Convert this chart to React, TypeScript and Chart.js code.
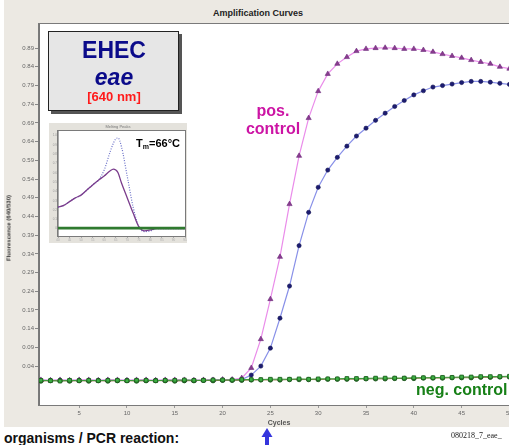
import React, { useEffect, useRef } from "react";
import { Chart, registerables } from "chart.js";

Chart.register(...registerables);

// ---------- main chart data ----------
const cycles = [1,2,3,4,5,6,7,8,9,10,11,12,13,14,15,16,17,18,19,20,21,22,23,24,25,26,27,28,29,30,31,32,33,34,35,36,37,38,39,40,41,42,43,44,45,46,47,48,49,50];

const posControl = [0.003,0.002,0.003,0.002,0.003,0.003,0.002,0.003,0.003,0.002,0.003,0.003,0.002,0.003,0.003,0.003,0.002,0.003,0.003,0.004,0.004,0.008,0.035,0.112,0.219,0.332,0.473,0.602,0.703,0.775,0.821,0.848,0.866,0.882,0.888,0.890,0.891,0.890,0.888,0.888,0.885,0.880,0.874,0.869,0.864,0.858,0.853,0.848,0.840,0.835];

const sample = [0.002,0.002,0.002,0.002,0.002,0.002,0.002,0.002,0.002,0.002,0.002,0.002,0.002,0.002,0.002,0.002,0.002,0.002,0.003,0.003,0.003,0.004,0.016,0.040,0.088,0.168,0.254,0.362,0.451,0.518,0.564,0.598,0.628,0.655,0.676,0.697,0.716,0.734,0.750,0.765,0.776,0.786,0.790,0.794,0.798,0.801,0.801,0.799,0.796,0.793];

const negControlA = [0.002,0.001,0.000,0.002,0.001,0.002,0.001,0.002,0.002,0.001,0.002,0.002,0.001,0.002,0.002,0.003,0.002,0.002,0.003,0.003,0.003,0.004,0.004,0.004,0.005,0.005,0.005,0.006,0.005,0.006,0.006,0.006,0.007,0.007,0.007,0.008,0.008,0.008,0.008,0.009,0.009,0.009,0.010,0.010,0.011,0.011,0.012,0.012,0.012,0.013];

const negControlB = [0.000,0.001,0.001,0.000,0.001,0.000,0.001,0.000,0.001,0.001,0.000,0.001,0.001,0.001,0.000,0.001,0.001,0.002,0.001,0.002,0.002,0.002,0.003,0.003,0.003,0.003,0.004,0.004,0.004,0.004,0.005,0.005,0.005,0.005,0.006,0.006,0.006,0.007,0.007,0.007,0.008,0.008,0.008,0.009,0.009,0.009,0.010,0.010,0.011,0.011];

const xTicks = [5,10,15,20,25,30,35,40,45,50];
const yTicks = [0.04,0.09,0.14,0.19,0.24,0.29,0.34,0.39,0.44,0.49,0.54,0.59,0.64,0.69,0.74,0.79,0.84,0.89];

// ---------- inset (melting peaks) data ----------
const meltTemps = [40,42.5,45,47.5,50,52.5,55,57.5,60,62.5,64,65,66,67.5,70,72.5,75,77.5,80,82.5,85,87.5,90,92.5,95];
const meltSample = [0.23,0.25,0.29,0.33,0.36,0.415,0.47,0.52,0.63,0.82,0.92,0.965,0.975,0.88,0.56,0.235,0.02,-0.033,-0.025,0,0,0,0,0,0];
const meltPos = [0.23,0.25,0.29,0.33,0.36,0.415,0.47,0.52,0.565,0.62,0.64,0.63,0.6,0.49,0.33,0.17,0.02,-0.025,-0.015,0,0,0,0,0,0];
const meltNeg = [0.005,0.005,0.005,0.005,0.005,0.005,0.005,0.005,0.005,0.005,0.005,0.005,0.005,0.005,0.005,0.005,0.005,0.005,0.005,0.005,0.005,0.005,0.005,0.005,0.005];
const meltXTicks = [40,45,50,55,60,65,70,75,80,85,90,95];
const meltYTicks = [0,0.1,0.2,0.3,0.4,0.5,0.6,0.7,0.8,0.9,1.0];

const pts = (xs: number[], ys: number[]) => xs.map((x, i) => ({ x, y: ys[i] }));

const plotBg = {
  id: "plotBg",
  beforeDraw(chart: any) {
    const { ctx, chartArea: a } = chart;
    ctx.save();
    ctx.fillStyle = "#ffffff";
    ctx.fillRect(a.left, a.top, a.right - a.left, a.bottom - a.top);
    ctx.restore();
  },
  afterDraw(chart: any) {
    const { ctx, chartArea: a } = chart;
    ctx.save();
    ctx.strokeStyle = "#7a7a7a";
    ctx.lineWidth = 1;
    ctx.strokeRect(a.left - 0.5, a.top - 0.5, a.right - a.left + 1, a.bottom - a.top + 1);
    ctx.restore();
  },
};

export default function App() {
  const mainRef = useRef<HTMLCanvasElement | null>(null);
  const insetRef = useRef<HTMLCanvasElement | null>(null);

  useEffect(() => {
    const main = new Chart(mainRef.current as HTMLCanvasElement, {
      type: "line",
      data: {
        datasets: [
          {
            data: pts(cycles, negControlA),
            borderColor: "#3a9a3a",
            borderWidth: 1,
            pointStyle: "rect",
            pointRadius: 2.6,
            pointBackgroundColor: "#3cb043",
            pointBorderColor: "#1e5e1e",
            pointBorderWidth: 0.8,
          },
          {
            data: pts(cycles, negControlB),
            borderColor: "#8a7040",
            borderWidth: 1,
            pointStyle: "circle",
            pointRadius: 2.2,
            pointBackgroundColor: "#2e8b2e",
            pointBorderColor: "#114411",
            pointBorderWidth: 0.8,
          },
          {
            data: pts(cycles, posControl),
            borderColor: "#ea8cea",
            borderWidth: 1.2,
            pointStyle: "triangle",
            pointRadius: 3.0,
            pointBackgroundColor: "#8a3c8e",
            pointBorderColor: "#6a2a7a",
            pointBorderWidth: 0.6,
          },
          {
            data: pts(cycles, sample),
            borderColor: "#8890e8",
            borderWidth: 1.2,
            pointStyle: "circle",
            pointRadius: 2.1,
            pointBackgroundColor: "#1c1c72",
            pointBorderColor: "#12124f",
            pointBorderWidth: 0.6,
          },
        ],
      },
      options: {
        animation: false,
        responsive: false,
        maintainAspectRatio: false,
        layout: { padding: { left: 0, top: 24, right: 41, bottom: 0 } },
        plugins: {
          legend: { display: false },
          title: { display: false },
          tooltip: { enabled: false },
        },
        scales: {
          x: {
            type: "linear",
            min: 0.8,
            max: 51,
            afterBuildTicks: (s: any) => {
              s.ticks = xTicks.map((v) => ({ value: v }));
            },
            afterFit: (s: any) => {
              s.height = 22;
            },
            grid: { drawOnChartArea: false, tickLength: 3, color: "#999" },
            border: { color: "#777" },
            ticks: {
              font: { size: 6, family: "Arial" },
              color: "#666",
              padding: 2,
              maxRotation: 0,
              autoSkip: false,
            },
            title: {
              display: true,
              text: "Cycles",
              font: { size: 7, weight: "bold", family: "Arial" },
              color: "#555",
              padding: 0,
            },
          },
          y: {
            type: "linear",
            min: -0.064,
            max: 0.9545,
            afterBuildTicks: (s: any) => {
              s.ticks = yTicks.map((v) => ({ value: v }));
            },
            afterFit: (s: any) => {
              s.width = 39;
            },
            grid: { drawOnChartArea: false, tickLength: 4, color: "#888" },
            border: { color: "#777" },
            ticks: {
              font: { size: 6, family: "Arial" },
              color: "#666",
              padding: 1,
              autoSkip: false,
              callback: (v: any) => Number(v).toFixed(2),
            },
          },
        },
      },
      plugins: [plotBg],
    });

    const inset = new Chart(insetRef.current as HTMLCanvasElement, {
      type: "line",
      data: {
        datasets: [
          {
            data: pts(meltTemps, meltNeg),
            borderColor: "#2f7a2f",
            borderWidth: 2.6,
            pointRadius: 0,
          },
          {
            data: pts(meltTemps, meltPos),
            borderColor: "#7a3c8c",
            borderWidth: 1.3,
            pointRadius: 0,
            cubicInterpolationMode: "monotone",
          },
          {
            data: pts(meltTemps, meltSample),
            borderColor: "#6a70c8",
            borderWidth: 1.2,
            borderDash: [1, 1.5],
            pointRadius: 0,
            cubicInterpolationMode: "monotone",
          },
        ],
      },
      options: {
        animation: false,
        responsive: false,
        maintainAspectRatio: false,
        layout: { padding: { left: 0, top: 8, right: 2, bottom: 0 } },
        plugins: {
          legend: { display: false },
          title: { display: false },
          tooltip: { enabled: false },
        },
        scales: {
          x: {
            type: "linear",
            min: 40,
            max: 95,
            afterBuildTicks: (s: any) => {
              s.ticks = meltXTicks.map((v) => ({ value: v }));
            },
            afterFit: (s: any) => {
              s.height = 7;
            },
            grid: { drawOnChartArea: false, tickLength: 2, color: "#aaa" },
            border: { color: "#aaa" },
            ticks: { font: { size: 3 }, color: "#aaa", padding: 0, maxRotation: 0, autoSkip: false },
          },
          y: {
            type: "linear",
            min: -0.08,
            max: 1.05,
            afterBuildTicks: (s: any) => {
              s.ticks = meltYTicks.map((v) => ({ value: v }));
            },
            afterFit: (s: any) => {
              s.width = 9;
            },
            grid: { drawOnChartArea: false, tickLength: 1, color: "#aaa" },
            border: { color: "#aaa" },
            ticks: { font: { size: 3 }, color: "#999", padding: 0, autoSkip: false },
          },
        },
      },
      plugins: [plotBg],
    });

    return () => {
      main.destroy();
      inset.destroy();
    };
  }, []);

  const abs = (o: React.CSSProperties): React.CSSProperties => ({ position: "absolute", ...o });

  return (
    <div
      style={{
        position: "fixed",
        left: 0,
        top: 0,
        width: 509,
        height: 445,
        overflow: "hidden",
        background: "#ffffff",
        fontFamily: "Arial, 'Liberation Sans', sans-serif",
      }}
    >
      <div style={abs({ left: 4, top: 0, width: 505, height: 427, background: "#ece9e3" })} />
      <div
        style={abs({
          left: 213,
          top: 8,
          fontSize: 9,
          lineHeight: "11px",
          fontWeight: "bold",
          color: "#222",
          whiteSpace: "nowrap",
        })}
      >
        Amplification Curves
      </div>
      <canvas ref={mainRef} width={560} height={427} style={abs({ left: 0, top: 0, width: 560, height: 427 })} />

      <div
        style={abs({
          left: 9,
          top: 228,
          transform: "translate(-50%, -50%) rotate(-90deg)",
          fontSize: 6,
          lineHeight: "7px",
          fontWeight: "bold",
          color: "#333",
          whiteSpace: "nowrap",
        })}
      >
        Fluorescence (640/530)
      </div>

      {/* EHEC box */}
      <div
        style={abs({
          left: 48,
          top: 31,
          width: 129,
          height: 78,
          background: "#e6e6e6",
          border: "1.5px solid #222",
          boxShadow: "3px 3px 0 #555",
        })}
      />
      <div style={abs({ left: 48, width: 132, top: 38.5, textAlign: "center", fontSize: 23, lineHeight: "23px", fontWeight: "bold", color: "#0b0b8a" })}>
        EHEC
      </div>
      <div style={abs({ left: 48, width: 132, top: 65.5, textAlign: "center", fontSize: 23, lineHeight: "23px", fontWeight: "bold", fontStyle: "italic", color: "#0b0b8a" })}>
        eae
      </div>
      <div style={abs({ left: 48, width: 132, top: 90, textAlign: "center", fontSize: 13, lineHeight: "13px", fontWeight: "bold", color: "#ff1a1a" })}>
        [640 nm]
      </div>

      {/* melting peaks inset */}
      <div style={abs({ left: 49, top: 123, width: 138, height: 120, background: "#e4e2dc" })} />
      <canvas ref={insetRef} width={138} height={120} style={abs({ left: 49, top: 123, width: 138, height: 120 })} />
      <div style={abs({ left: 49, width: 138, top: 124, textAlign: "center", fontSize: 4, lineHeight: "5px", color: "#777" })}>
        Melting Peaks
      </div>
      <div style={abs({ left: 136, top: 137, fontSize: 11, lineHeight: "12px", fontWeight: "bold", color: "#000", whiteSpace: "nowrap" })}>
        T<sub style={{ fontSize: 7, verticalAlign: "-2px", lineHeight: 0 }}>m</sub>=66°C
      </div>

      {/* curve annotations */}
      <div style={abs({ left: 223, width: 100, top: 101.5, textAlign: "center", fontSize: 16, lineHeight: "18px", fontWeight: "bold", color: "#cc14a4" })}>
        pos.
        <br />
        control
      </div>
      <div style={abs({ left: 416, top: 380.5, fontSize: 16, lineHeight: "18px", fontWeight: "bold", color: "#178017", whiteSpace: "nowrap" })}>
        neg. control
      </div>

      {/* bottom texts */}
      <div style={abs({ left: 4, top: 431, fontSize: 14, lineHeight: "14px", fontWeight: "bold", color: "#111", whiteSpace: "nowrap" })}>
        organisms / PCR reaction:
      </div>
      <div style={abs({ left: 451, top: 431, fontSize: 8, lineHeight: "9px", fontFamily: "'Liberation Serif', 'Times New Roman', serif", color: "#222", whiteSpace: "nowrap" })}>
        080218_7_eae_
      </div>
      <svg width={16} height={18} style={abs({ left: 259, top: 428 })}>
        <polygon points="8,0 2.5,9 13.5,9" fill="#3535dd" />
        <rect x={6} y={8} width={4} height={10} fill="#3535dd" />
      </svg>
    </div>
  );
}
